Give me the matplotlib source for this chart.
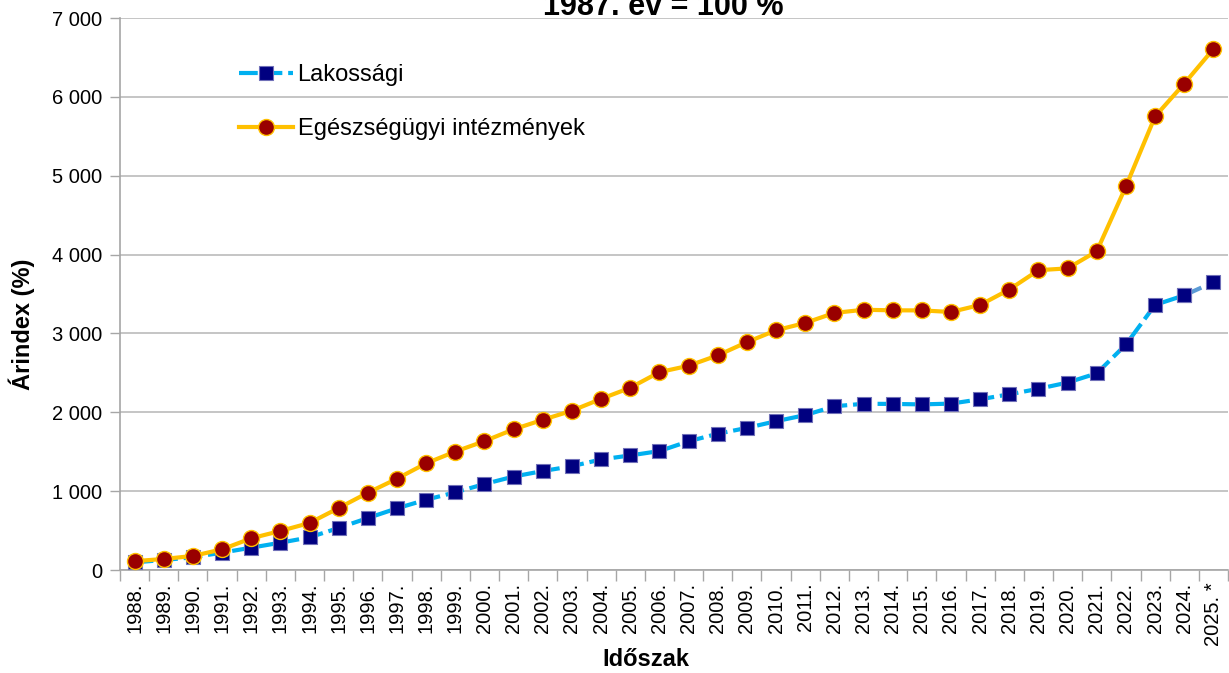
import matplotlib
matplotlib.use("Agg")
import matplotlib.pyplot as plt
from matplotlib.ticker import FuncFormatter, MultipleLocator, FixedLocator
import numpy as np

plt.rcParams['font.family'] = ['Liberation Sans', 'DejaVu Sans']

years = [f"{y}." for y in range(1988, 2025)] + ["2025. *"]
lakossagi = [97, 127, 161, 220, 283, 346, 414, 533, 659, 782, 891, 985, 1090,
             1185, 1255, 1316, 1402, 1453, 1508, 1632, 1728, 1802, 1887, 1964,
             2076, 2108, 2106, 2100, 2110, 2165, 2228, 2298, 2377, 2494, 2860,
             3362, 3483, 3650]
egeszsegugyi = [112, 140, 178, 262, 402, 495, 596, 786, 980, 1158, 1353, 1502,
                1634, 1784, 1905, 2020, 2170, 2311, 2509, 2590, 2722, 2889,
                3040, 3133, 3260, 3300, 3293, 3292, 3272, 3361, 3557, 3802,
                3825, 4042, 4865, 5752, 6168, 6607]

title = "1987. év = 100 %"
ylabel = "Árindex (%)"
xlabel = "Időszak"

W, H = 1229, 673
fig = plt.figure(figsize=(W/100, H/100), dpi=100)
ax = fig.add_axes([120/W, (H-570)/H, (1228-120)/W, (570-18)/H])

x = np.arange(len(years))
lw = 3.0
dash = (4.5, 1.4)
# Lakossági
ax.plot(x[:-1], lakossagi[:-1], color='#00B0F0', lw=lw, dashes=dash,
        marker='s', markersize=10.5, markerfacecolor='#000080',
        markeredgecolor='#7070B8', markeredgewidth=0.8, zorder=3,
        label='Lakossági', dash_capstyle='butt')
ax.plot(x[-2:], lakossagi[-2:], color='#5B9BD5', lw=lw, dashes=dash,
        marker='s', markersize=10.5, markerfacecolor='#000080',
        markeredgecolor='#7070B8', markeredgewidth=0.8, zorder=3)
# Egészségügyi
ax.plot(x, egeszsegugyi, color='#FFC000', lw=lw, marker='o', markersize=11.5,
        markerfacecolor='#990000', markeredgecolor='#FFC000',
        markeredgewidth=1.0, zorder=4, label='Egészségügyi intézmények')

ax.set_xlim(-0.5, len(years) - 0.5)
ax.set_ylim(0, 7000)
ax.yaxis.set_major_locator(MultipleLocator(1000))
ax.yaxis.set_major_formatter(FuncFormatter(lambda v, p: f"{int(v):,}".replace(",", " ")))
ax.set_xticks(x)
ax.set_xticklabels(years, rotation=90, fontsize=14.5)
ax.xaxis.set_minor_locator(FixedLocator(np.arange(-0.5, len(years), 1.0)))
ax.tick_params(axis='x', which='major', length=0, pad=9)
ax.tick_params(axis='x', which='minor', length=8, color='#A6A6A6', width=1)
ax.tick_params(axis='y', which='major', length=7, color='#A6A6A6', width=1,
               labelsize=14.5, pad=6)

ax.grid(axis='y', color='#C0C0C0', lw=1.3)
ax.set_axisbelow(True)
for s in ['top', 'right']:
    ax.spines[s].set_visible(False)
for s in ['left', 'bottom']:
    ax.spines[s].set_color('#A6A6A6')
    ax.spines[s].set_linewidth(1.2)

fig.text(22/W, 1 - 324/H, ylabel, rotation=90, ha='center', va='center',
         fontsize=17, fontweight='bold')
fig.text(646/W, 1 - 666/H, xlabel, ha='center', va='baseline',
         fontsize=17, fontweight='bold')

fig.text(663/W, 1 - 15/H, title, ha='center', va='baseline',
         fontsize=22, fontweight='bold')

leg = ax.legend(loc='upper left', bbox_to_anchor=((243-120)/1108 - 0.004, 0.917),
                frameon=False, fontsize=17, handlelength=2.3,
                handletextpad=0.2, labelspacing=1.38, borderaxespad=0,
                borderpad=0)

fig.savefig('out.png', dpi=100)
